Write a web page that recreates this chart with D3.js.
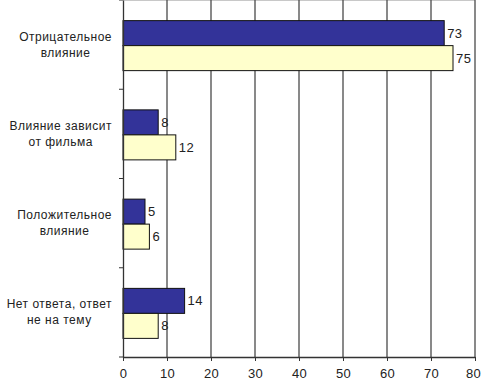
<!DOCTYPE html>
<html>
<head>
<meta charset="utf-8">
<script src="https://cdn.jsdelivr.net/npm/d3@7"></script>
<style>
  body { margin: 0; background: #fff; }
  svg { display: block; font-family: Arial, "Liberation Sans", sans-serif; }
</style>
</head>
<body>
<div id="chart"></div>
<script>
// categories top to bottom, two lines each
var categories = [
  ["Отрицательное", "влияние"],
  ["Влияние зависит", "от фильма"],
  ["Положительное", "влияние"],
  ["Нет ответа, ответ", "не на тему"]
];
var seriesA = [73, 8, 5, 14];   // dark blue
var seriesB = [75, 12, 6, 8];   // pale yellow
var xTicks = [0, 10, 20, 30, 40, 50, 60, 70, 80];

var width = 481, height = 381;
var margin = {top: 0, right: 6, bottom: 24, left: 123};
var w = width - margin.left - margin.right;
var h = height - margin.top - margin.bottom;

var svg = d3.select("#chart").append("svg")
    .attr("width", width)
    .attr("height", height);

var g = svg.append("g")
    .attr("transform", "translate(" + margin.left + "," + margin.top + ")");

var xScale = d3.scaleLinear().domain([0, 80]).range([0, w]);
var yScale = d3.scaleBand().domain(d3.range(categories.length)).range([0, h]);
var inner = d3.scaleBand().domain([0, 1]).range([0, 50]);

// faint top edge of the plot area
g.append("line")
    .attr("x1", 0).attr("x2", w)
    .attr("y1", 0.5).attr("y2", 0.5)
    .attr("stroke", "#c8c8c8");

// gridlines
g.selectAll(".grid")
    .data(xTicks.slice(1))
  .enter().append("line")
    .attr("x1", function(d) { return xScale(d); })
    .attr("x2", function(d) { return xScale(d); })
    .attr("y1", 0)
    .attr("y2", h)
    .attr("stroke", "#4a4a4a")
    .attr("stroke-width", 1.3);

// bars
var groups = g.selectAll(".cat")
    .data(categories)
  .enter().append("g")
    .attr("transform", function(d, i) {
      return "translate(0," + (yScale(i) + (yScale.bandwidth() - 50) / 2 + 1) + ")";
    });

groups.append("rect")
    .attr("x", 0)
    .attr("y", inner(0))
    .attr("width", function(d, i) { return xScale(seriesA[i]); })
    .attr("height", inner.bandwidth())
    .attr("fill", "#333399")
    .attr("stroke", "#111")
    .attr("stroke-width", 1);

groups.append("rect")
    .attr("x", 0)
    .attr("y", inner(1))
    .attr("width", function(d, i) { return xScale(seriesB[i]); })
    .attr("height", inner.bandwidth())
    .attr("fill", "#ffffcc")
    .attr("stroke", "#111")
    .attr("stroke-width", 1);

groups.append("text")
    .attr("x", function(d, i) { return xScale(seriesA[i]) + 3; })
    .attr("y", inner(0) + inner.bandwidth() / 2)
    .attr("dy", "0.35em")
    .attr("font-size", 13)
    .attr("letter-spacing", 0.4)
    .attr("fill", "#222")
    .text(function(d, i) { return seriesA[i]; });

groups.append("text")
    .attr("x", function(d, i) { return xScale(seriesB[i]) + 3; })
    .attr("y", inner(1) + inner.bandwidth() / 2)
    .attr("dy", "0.35em")
    .attr("font-size", 13)
    .attr("letter-spacing", 0.4)
    .attr("fill", "#222")
    .text(function(d, i) { return seriesB[i]; });

// category labels: block right-aligned near the axis, lines centred in the block
var labels = groups.append("text")
    .attr("font-size", 12)
    .attr("letter-spacing", 0.5)
    .attr("fill", "#222")
    .attr("text-anchor", "middle");

labels.selectAll("tspan")
    .data(function(d) { return d; })
  .enter().append("tspan")
    .attr("y", function(d, j) { return 20 + j * 16; })
    .text(function(d) { return d; });

labels.each(function() {
  var t = d3.select(this);
  var maxW = 0;
  t.selectAll("tspan").each(function() {
    maxW = Math.max(maxW, this.getComputedTextLength());
  });
  var cx = -11 - maxW / 2;
  t.selectAll("tspan").attr("x", cx);
});

// x axis
g.append("g")
    .attr("transform", "translate(0," + h + ")")
    .call(d3.axisBottom(xScale).tickValues(xTicks).tickSize(4).tickSizeOuter(0))
    .call(function(a) {
      a.select(".domain").attr("stroke", "#333").attr("stroke-width", 1.3);
      a.selectAll(".tick line").attr("stroke", "#333");
      a.selectAll("text").attr("font-size", 13).attr("fill", "#222")
        .attr("letter-spacing", 0.4)
        .attr("font-family", "Arial, 'Liberation Sans', sans-serif").attr("dy", "1.05em");
      // keep the last label inside the window
      a.selectAll(".tick").filter(function(d) { return d === 80; })
        .select("text").attr("dx", -2);
    });

// y axis
g.append("g")
    .call(d3.axisLeft(yScale).tickValues([]).tickSizeOuter(0))
    .call(function(a) {
      a.select(".domain").attr("stroke", "#333").attr("stroke-width", 1.3);
    });

g.selectAll(".ytick")
    .data(d3.range(categories.length + 1))
  .enter().append("line")
    .attr("x1", -4).attr("x2", 0)
    .attr("y1", function(i) { return i < categories.length ? yScale(i) : h; })
    .attr("y2", function(i) { return i < categories.length ? yScale(i) : h; })
    .attr("stroke", "#333");
</script>
</body>
</html>
